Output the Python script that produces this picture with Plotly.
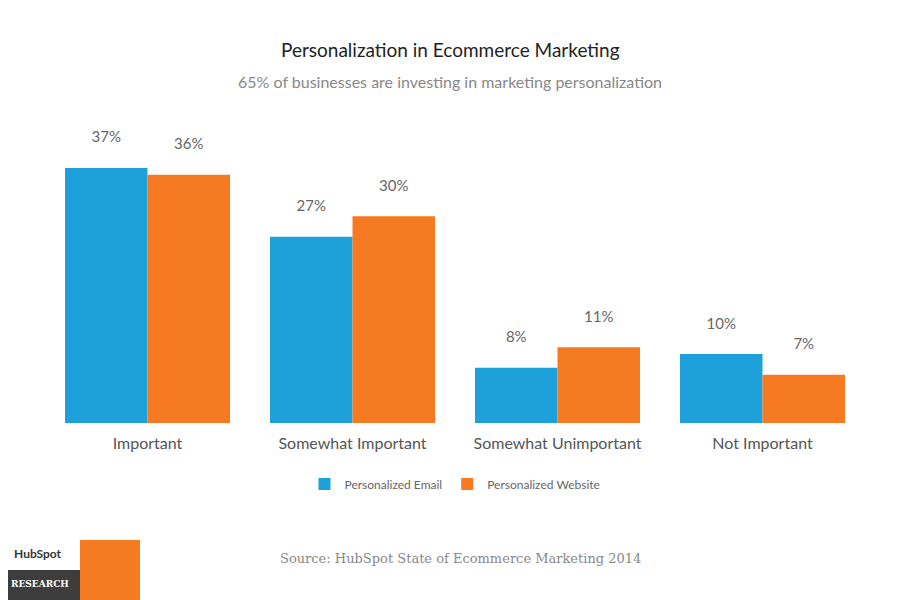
import plotly.graph_objects as go

categories = ["Important", "Somewhat Important", "Somewhat Unimportant", "Not Important"]
email = [37, 27, 8, 10]
website = [36, 30, 11, 7]

BLUE = "#1ea1db"
ORANGE = "#f57a22"

# page body has an 8px margin, so positions are given in screen pixels and shifted
OFF = 8
L, R, T, B = 65 - 20 - OFF, 900 - 865 + OFF, 110 - OFF, 600 - 423 + OFF
pw = 900 - L - R
ph = 600 - T - B


def px_x(x):
    return (x - OFF - L) / pw


def px_y(y):
    return (600 - B - (y - OFF)) / ph


fig = go.Figure()
for name, vals, col in [("Personalized Email", email, BLUE), ("Personalized Website", website, ORANGE)]:
    fig.add_bar(x=categories, y=vals, name=name, marker_color=col, marker_line_width=0,
                text=[f"{v}%<br> " for v in vals], textposition="outside",
                textfont=dict(size=15, color="#666"), cliponaxis=False)

notes = [
    ("Personalization in Ecommerce Marketing", 450, 50, dict(size=19, color="#222")),
    ("65% of businesses are investing in marketing personalization", 450, 82, dict(size=16, color="#888")),
    ("Source: HubSpot State of Ecommerce Marketing 2014", 460, 558,
     dict(size=13, color="#888", family="DejaVu Serif, serif")),
    ("<b>HubSpot</b>", 38, 553, dict(size=12, color="#333")),
    ("<b>RESEARCH</b>", 40, 584, dict(size=9, color="white", family="DejaVu Serif, serif")),
]

fig.update_layout(
    width=900, height=600, barmode="group", bargap=0.195, bargroupgap=0,
    plot_bgcolor="white", paper_bgcolor="white",
    font=dict(family="Lato, sans-serif", color="#555"),
    margin=dict(l=L, r=R, t=T, b=B, autoexpand=False),
    xaxis=dict(showline=False, ticks="", tickfont=dict(size=16, color="#555"), ticklabelstandoff=9),
    yaxis=dict(visible=False, range=[0, 45.4]),
    showlegend=True,
    legend=dict(orientation="h", x=0.5, xanchor="center", y=px_y(484), yanchor="middle",
                font=dict(size=12, color="#666")),
    annotations=[dict(text=t, xref="paper", yref="paper", x=px_x(x), y=px_y(y), showarrow=False,
                      xanchor="center", yanchor="middle", font=f)
                 for t, x, y, f in notes],
    shapes=[
        dict(type="rect", xref="paper", yref="paper", x0=px_x(0), x1=px_x(80), y0=px_y(600), y1=px_y(570),
             fillcolor="#3d3d3d", line_width=0),
        dict(type="rect", xref="paper", yref="paper", x0=px_x(80), x1=px_x(140), y0=px_y(600), y1=px_y(540),
             fillcolor=ORANGE, line_width=0),
    ],
)

fig.write_html("out.html")
